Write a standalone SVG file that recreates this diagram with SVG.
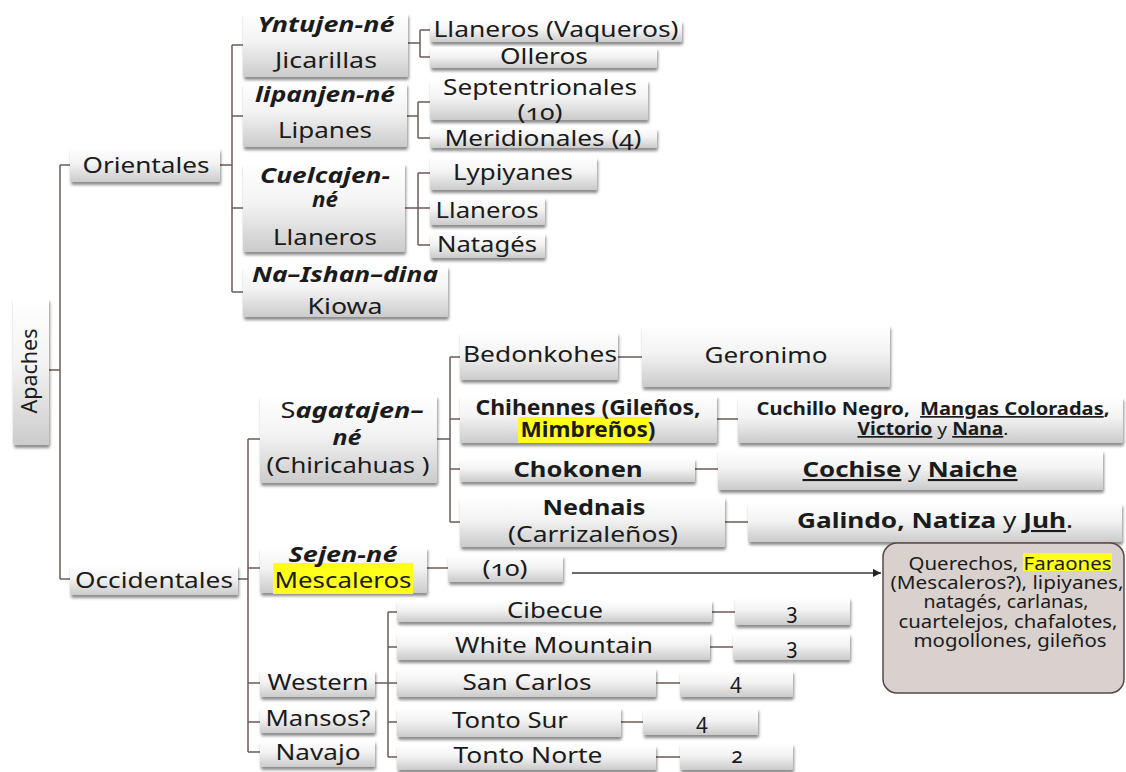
<svg xmlns="http://www.w3.org/2000/svg" width="1126" height="772" viewBox="0 0 1126 772">
<defs>
<linearGradient id="g" x1="0" y1="0" x2="0" y2="1">
<stop offset="0" stop-color="#ffffff"/>
<stop offset="0.45" stop-color="#f3f3f3"/>
<stop offset="1" stop-color="#cbcbcb"/>
</linearGradient>
<filter id="sh" x="-5%" y="-15%" width="115%" height="150%">
<feDropShadow dx="1" dy="3" stdDeviation="1.8" flood-color="#000" flood-opacity="0.45"/>
</filter>
<marker id="ah" viewBox="0 0 8 8" refX="8" refY="4" markerWidth="8" markerHeight="8" markerUnits="userSpaceOnUse" orient="auto">
<path d="M0,0 L8,4 L0,8 z" fill="#222"/>
</marker>
<style>
.bx{fill:url(#g);filter:url(#sh);}
.t{font-family:"Noto Sans","Open Sans","DejaVu Sans",sans-serif;font-size:21px;fill:#1b1b1b;text-anchor:middle;font-variant-numeric:oldstyle-nums;}
.bi{font-weight:bold;font-style:italic;}
.b{font-weight:bold;}
.r{font-weight:normal;font-style:normal;}
.u{text-decoration:underline;}
.hl{fill:#ffff1a;}
.c{stroke:#6d5b56;stroke-width:1.5;fill:none;}
.s{font-size:17px;}
.sm{font-size:18px;}
</style>
</defs>
<rect width="1126" height="772" fill="#ffffff"/>

<g id="connectors">
<path class="c" d="M49,370H60M60,165V579M60,165H70M60,579H70"/>
<path class="c" d="M220,165H232M232,45V292M232,45H243M232,116H243M232,208H243M232,292H243"/>
<path class="c" d="M408,43H420M420,30V57M420,30H430M420,57H430"/>
<path class="c" d="M407,116H418M418,102V138M418,102H430M418,138H430"/>
<path class="c" d="M405,208H418M418,173V245M418,173H430M418,208H430M418,245H430"/>
<path class="c" d="M238,579H248M248,439V752M248,439H260M248,568H260M248,683H260M248,722H260M248,752H260"/>
<path class="c" d="M437,439H450M450,357V522M450,357H460M450,419H460M450,469H460M450,522H460"/>
<path class="c" d="M618,357H642M717,419H738M695,469H718M725,522H748"/>
<path class="c" d="M427,568H448"/>
<path class="c" d="M375,683H388M388,612V757M388,612H397M388,647H397M388,683H397M388,722H397M388,757H397"/>
<path class="c" d="M712,612H735M710,647H733M656,683H680M621,722H643M656,757H680"/>
<path d="M572,573H881" stroke="#3a3a3a" stroke-width="1.5" fill="none" marker-end="url(#ah)"/>
</g>

<g id="n-apaches"><rect class="bx" x="13" y="298" width="36" height="147" rx="2"/>
<text class="t" font-size="20" transform="translate(37,371) rotate(-90)" x="0" y="0" textLength="85" lengthAdjust="spacingAndGlyphs">Apaches</text></g>

<g id="n-orientales"><rect class="bx" x="70" y="148" width="150" height="34" rx="2"/>
<text class="t" x="146" y="173" textLength="127" lengthAdjust="spacingAndGlyphs">Orientales</text></g>

<g id="n-occidentales"><rect class="bx" x="70" y="565" width="168" height="30" rx="2"/>
<text class="t" x="154" y="588" textLength="158" lengthAdjust="spacingAndGlyphs">Occidentales</text></g>

<g id="n-yntujen"><rect class="bx" x="243" y="13" width="165" height="64" rx="2"/>
<text class="t bi" x="326" y="32" textLength="137" lengthAdjust="spacingAndGlyphs">Yntujen-né</text>
<text class="t" x="326" y="68" textLength="102" lengthAdjust="spacingAndGlyphs">Jicarillas</text></g>

<g id="n-lipanjen"><rect class="bx" x="243" y="83" width="164" height="64" rx="2"/>
<text class="t bi" x="325" y="102" textLength="140" lengthAdjust="spacingAndGlyphs">lipanjen-né</text>
<text class="t" x="325" y="138" textLength="94" lengthAdjust="spacingAndGlyphs">Lipanes</text></g>

<g id="n-cuelcajen"><rect class="bx" x="243" y="163" width="162" height="89" rx="2"/>
<text class="t bi" x="325" y="183" textLength="130" lengthAdjust="spacingAndGlyphs">Cuelcajen-</text>
<text class="t bi" x="325" y="207" textLength="26" lengthAdjust="spacingAndGlyphs">né</text>
<text class="t" x="325" y="245" textLength="104" lengthAdjust="spacingAndGlyphs">Llaneros</text></g>

<g id="n-naishan"><rect class="bx" x="243" y="266" width="205" height="51" rx="2"/>
<text class="t bi" x="345" y="282" textLength="186" lengthAdjust="spacingAndGlyphs">Na–Ishan–dina</text>
<text class="t" x="345" y="314" textLength="75" lengthAdjust="spacingAndGlyphs">Kiowa</text></g>

<g id="n-vaqueros"><rect class="bx" x="430" y="20" width="252" height="22" rx="2"/>
<text class="t" x="556" y="37" textLength="245" lengthAdjust="spacingAndGlyphs">Llaneros (Vaqueros)</text></g>

<g id="n-olleros"><rect class="bx" x="430" y="47" width="227" height="21" rx="2"/>
<text class="t" x="544" y="64" textLength="88" lengthAdjust="spacingAndGlyphs">Olleros</text></g>

<g id="n-septentrionales"><rect class="bx" x="430" y="80" width="218" height="40" rx="2"/>
<text class="t" x="540" y="95" textLength="194" lengthAdjust="spacingAndGlyphs">Septentrionales</text>
<text class="t" x="540" y="120" textLength="45" lengthAdjust="spacingAndGlyphs">(10)</text></g>

<g id="n-meridionales"><rect class="bx" x="430" y="128" width="227" height="20" rx="2"/>
<text class="t" x="543" y="146" textLength="197" lengthAdjust="spacingAndGlyphs">Meridionales (4)</text></g>

<g id="n-lypiyanes"><rect class="bx" x="430" y="157" width="167" height="33" rx="2"/>
<text class="t" x="513" y="180" textLength="120" lengthAdjust="spacingAndGlyphs">Lypiyanes</text></g>

<g id="n-llaneros2"><rect class="bx" x="430" y="197" width="115" height="28" rx="2"/>
<text class="t" x="487" y="218" textLength="103" lengthAdjust="spacingAndGlyphs">Llaneros</text></g>

<g id="n-natages"><rect class="bx" x="430" y="233" width="115" height="25" rx="2"/>
<text class="t" x="487" y="252" textLength="100" lengthAdjust="spacingAndGlyphs">Natagés</text></g>

<g id="n-sagatajen"><rect class="bx" x="260" y="395" width="177" height="88" rx="2"/>
<text class="t" x="352" y="418" textLength="143" lengthAdjust="spacingAndGlyphs">S<tspan class="bi">agatajen–</tspan></text>
<text class="t bi" x="347" y="445" textLength="29" lengthAdjust="spacingAndGlyphs">né</text>
<text class="t" x="348" y="473" textLength="163" lengthAdjust="spacingAndGlyphs">(Chiricahuas )</text></g>

<g id="n-sejen"><rect class="bx" x="260" y="547" width="167" height="46" rx="2"/>
<rect class="hl" x="273" y="563" width="140" height="31"/>
<text class="t bi" x="343" y="562" textLength="109" lengthAdjust="spacingAndGlyphs">Sejen-né</text>
<text class="t" x="343" y="588" textLength="137" lengthAdjust="spacingAndGlyphs">Mescaleros</text></g>

<g id="n-western"><rect class="bx" x="260" y="670" width="115" height="27" rx="2"/>
<text class="t" x="318" y="690" textLength="101" lengthAdjust="spacingAndGlyphs">Western</text></g>

<g id="n-mansos"><rect class="bx" x="260" y="707" width="115" height="26" rx="2"/>
<text class="t" x="318" y="726" textLength="105" lengthAdjust="spacingAndGlyphs">Mansos?</text></g>

<g id="n-navajo"><rect class="bx" x="260" y="740" width="115" height="27" rx="2"/>
<text class="t" x="318" y="760" textLength="85" lengthAdjust="spacingAndGlyphs">Navajo</text></g>

<g id="n-bedonkohes"><rect class="bx" x="460" y="332" width="158" height="48" rx="2"/>
<text class="t" x="540" y="362" textLength="154" lengthAdjust="spacingAndGlyphs">Bedonkohes</text></g>

<g id="n-geronimo"><rect class="bx" x="642" y="325" width="248" height="62" rx="2"/>
<text class="t" x="766" y="363" textLength="123" lengthAdjust="spacingAndGlyphs">Geronimo</text></g>

<g id="n-chihennes"><rect class="bx" x="460" y="395" width="257" height="48" rx="2"/>
<rect class="hl" x="518" y="417" width="132" height="26"/>
<text class="t b" x="588" y="415" textLength="225" lengthAdjust="spacingAndGlyphs">Chihennes (Gileños,</text>
<text class="t b" x="588" y="437" textLength="135" lengthAdjust="spacingAndGlyphs">Mimbreños)</text></g>

<g id="n-cuchillo"><rect class="bx" x="738" y="397" width="385" height="46" rx="2"/>
<text class="t b s" x="933" y="415" textLength="353" lengthAdjust="spacingAndGlyphs">Cuchillo Negro,&#160; <tspan class="u">Mangas Coloradas</tspan>,</text>
<text class="t b s" x="933" y="435" textLength="151" lengthAdjust="spacingAndGlyphs"><tspan class="u">Victorio</tspan><tspan class="r"> y </tspan><tspan class="u">Nana</tspan><tspan class="r">.</tspan></text></g>

<g id="n-chokonen"><rect class="bx" x="460" y="458" width="235" height="24" rx="2"/>
<text class="t b" x="578" y="477" textLength="129" lengthAdjust="spacingAndGlyphs">Chokonen</text></g>

<g id="n-cochise"><rect class="bx" x="718" y="450" width="385" height="40" rx="2"/>
<text class="t b" x="910" y="477" textLength="215" lengthAdjust="spacingAndGlyphs"><tspan class="u">Cochise</tspan><tspan class="r"> y </tspan><tspan class="u">Naiche</tspan></text></g>

<g id="n-nednais"><rect class="bx" x="460" y="497" width="265" height="50" rx="2"/>
<text class="t b" x="594" y="515" textLength="103" lengthAdjust="spacingAndGlyphs">Nednais</text>
<text class="t" x="593" y="542" textLength="170" lengthAdjust="spacingAndGlyphs">(Carrizaleños)</text></g>

<g id="n-galindo"><rect class="bx" x="748" y="503" width="374" height="39" rx="2"/>
<text class="t b" x="935" y="528" textLength="276" lengthAdjust="spacingAndGlyphs">Galindo, Natiza<tspan class="r"> y </tspan><tspan class="u">Juh</tspan><tspan class="r">.</tspan></text></g>

<g id="n-10"><rect class="bx" x="448" y="555" width="115" height="27" rx="2"/>
<text class="t" x="505" y="576" textLength="45" lengthAdjust="spacingAndGlyphs">(10)</text></g>

<g id="n-cibecue"><rect class="bx" x="397" y="600" width="315" height="22" rx="2"/>
<text class="t" x="555" y="618" textLength="96" lengthAdjust="spacingAndGlyphs">Cibecue</text></g>
<g id="n-cibecue-n"><rect class="bx" x="735" y="597" width="115" height="28" rx="2"/>
<text class="t" x="792" y="619">3</text></g>

<g id="n-white"><rect class="bx" x="397" y="632" width="313" height="28" rx="2"/>
<text class="t" x="554" y="653" textLength="198" lengthAdjust="spacingAndGlyphs">White Mountain</text></g>
<g id="n-white-n"><rect class="bx" x="733" y="633" width="117" height="27" rx="2"/>
<text class="t" x="792" y="654">3</text></g>

<g id="n-sancarlos"><rect class="bx" x="397" y="668" width="259" height="29" rx="2"/>
<text class="t" x="527" y="690" textLength="129" lengthAdjust="spacingAndGlyphs">San Carlos</text></g>
<g id="n-sancarlos-n"><rect class="bx" x="680" y="670" width="113" height="27" rx="2"/>
<text class="t" x="736" y="689">4</text></g>

<g id="n-tontosur"><rect class="bx" x="397" y="707" width="224" height="30" rx="2"/>
<text class="t" x="510" y="728" textLength="116" lengthAdjust="spacingAndGlyphs">Tonto Sur</text></g>
<g id="n-tontosur-n"><rect class="bx" x="643" y="708" width="115" height="27" rx="2"/>
<text class="t" x="702" y="729">4</text></g>

<g id="n-tontonorte"><rect class="bx" x="397" y="745" width="259" height="25" rx="2"/>
<text class="t" x="528" y="763" textLength="149" lengthAdjust="spacingAndGlyphs">Tonto Norte</text></g>
<g id="n-tontonorte-n"><rect class="bx" x="680" y="743" width="113" height="27" rx="2"/>
<text class="t" x="737" y="763">2</text></g>

<g id="n-querechos">
<rect x="883" y="543" width="241" height="150" rx="14" fill="#d9d1ce" stroke="#574845" stroke-width="1.5"/>
<rect class="hl" x="1023" y="553" width="89" height="18"/>
<text class="t sm" x="1010" y="570" textLength="203" lengthAdjust="spacingAndGlyphs">Querechos, Faraones</text>
<text class="t sm" x="1007" y="589" textLength="233" lengthAdjust="spacingAndGlyphs">(Mescaleros?), lipiyanes,</text>
<text class="t sm" x="1006" y="608" textLength="165" lengthAdjust="spacingAndGlyphs">natagés, carlanas,</text>
<text class="t sm" x="1008" y="628" textLength="219" lengthAdjust="spacingAndGlyphs">cuartelejos, chafalotes,</text>
<text class="t sm" x="1010" y="647" textLength="193" lengthAdjust="spacingAndGlyphs">mogollones, gileños</text>
</g>
</svg>
